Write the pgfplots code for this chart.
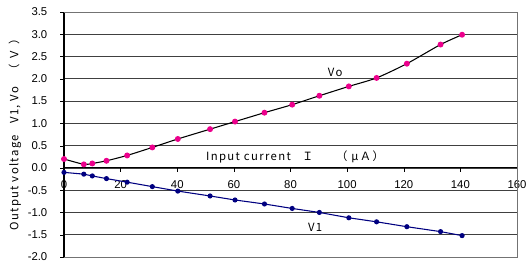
\documentclass[border=0pt]{standalone}
\usepackage{fontspec}
\setmainfont{Liberation Sans}
\newfontfamily\cjk[LetterSpace=12]{Noto Sans CJK JP}
\usepackage{pgfplots}
\pgfplotsset{compat=1.18}
\begin{document}
\begin{tikzpicture}[x=1pt,y=1pt]
\def\u{0.75}
\useasboundingbox (0,0) rectangle (527*\u,264*\u);
\begin{axis}[
  at={(64*\u pt,7*\u pt)}, anchor=south west,
  scale only axis, width=453*\u pt, height=245*\u pt,
  xmin=0, xmax=160, ymin=-2, ymax=3.5,
  axis x line=middle, axis y line=left,
  axis line style={-, black, line width=0.8pt},
  xtick={0,20,...,160}, ytick={-2,-1.5,...,3.5},
  hide obscured x ticks=false, hide obscured y ticks=false,
  tick align=outside, major tick length=3pt,
  x tick style={black}, y tick style={black},
  ymajorgrids, grid style={black!75, line width=0.5pt},
  /pgf/number format/assume math mode=true,
  yticklabel style={/pgf/number format/fixed, /pgf/number format/fixed zerofill, /pgf/number format/precision=1, font=\fontsize{8.5}{9}\selectfont, xshift=-6pt},
  xticklabel style={font=\fontsize{8.5}{9}\selectfont, yshift=-3pt, fill=none},
  clip=false,
]
\draw[black!55, line width=0.5pt] (rel axis cs:0,1) -- (rel axis cs:1,1) -- (rel axis cs:1,0) -- (rel axis cs:0,0);
\addplot[black, line width=0.8pt, smooth, tension=0.4, mark=*, mark size=1.8pt, mark options={fill=magenta, draw=magenta}] coordinates {
(0,0.20) (7,0.08) (10,0.10) (15,0.16) (22.3,0.28) (31.2,0.46) (40.2,0.65) (51.6,0.87) (60.4,1.04) (70.8,1.24) (80.6,1.42) (90.2,1.62) (100.6,1.83) (110.4,2.02) (121.1,2.34) (133,2.77) (140.6,2.99)};
\addplot[blue!50!black, line width=0.8pt, mark=*, mark size=1.5pt, mark options={fill=blue!50!black}] coordinates {
(0,-0.10) (7,-0.14) (10,-0.18) (15,-0.24) (22.3,-0.32) (31.2,-0.42) (40.2,-0.52) (51.6,-0.63) (60.4,-0.72) (70.8,-0.81) (80.6,-0.91) (90.2,-1.00) (100.6,-1.12) (110.4,-1.21) (121.1,-1.32) (133,-1.43) (140.6,-1.52)};
\node[font=\cjk\fontsize{8.5}{9}\selectfont] at (axis cs:95.8,2.14) {Vo};
\node[font=\cjk\fontsize{8.5}{9}\selectfont] at (axis cs:88.7,-1.34) {V1};
\node[font=\cjk\fontsize{8.5}{9}\selectfont] at (axis cs:81.6,0.25) {Input current\quad Ｉ\quad\quad （ μＡ）};
\end{axis}
\node[font=\cjk\fontsize{8.5}{9}\selectfont, rotate=90] at (15*\u, 132*\u) {Output voltage\quad V1, Vo\quad （ Ｖ ）};
\end{tikzpicture}
\end{document}
